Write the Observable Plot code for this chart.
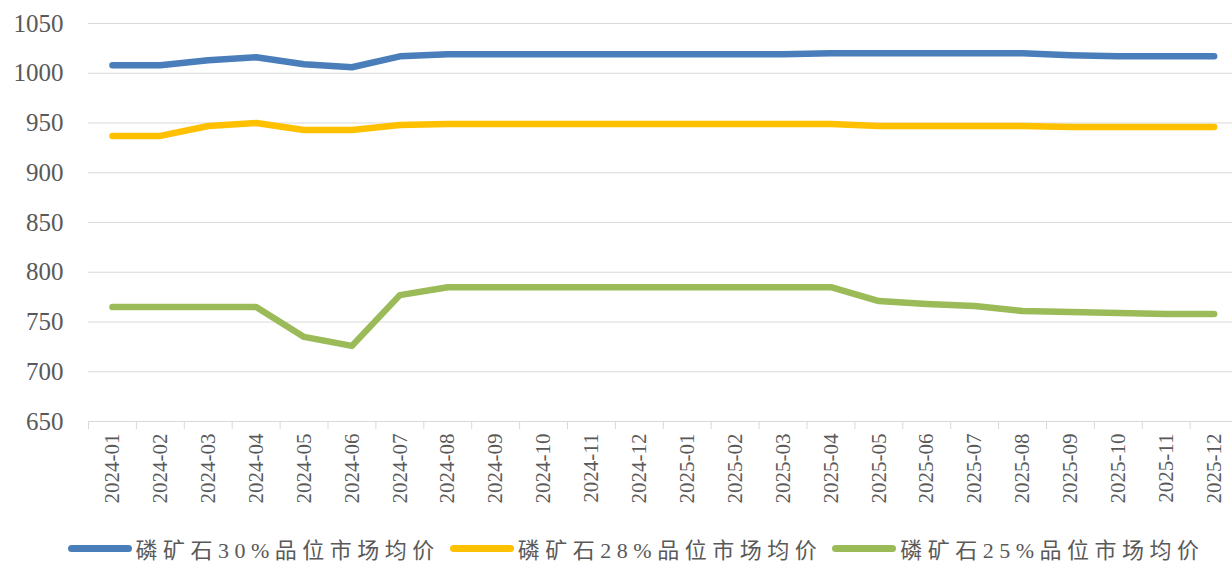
<!DOCTYPE html>
<html>
<head>
<meta charset="utf-8">
<script src="https://cdn.jsdelivr.net/npm/d3@7"></script>
<script src="https://cdn.jsdelivr.net/npm/@observablehq/plot@0.6"></script>
<style>
  body { margin: 0; background: #fff; }
  #chart svg { display: block; }
  #legend {
    display: flex; justify-content: center; align-items: center;
    height: 68px; box-sizing: border-box; padding-bottom: 12px; padding-left: 40px;
    font-family: "Liberation Serif", "Noto Sans CJK SC", serif;
    font-size: 22px; color: #595959; letter-spacing: 5.5px;
  }
  .item { display: flex; align-items: center; margin: 0 5px; }
  .sw { width: 64px; height: 7px; border-radius: 4px; margin-right: 4px; }
</style>
</head>
<body>
<div id="chart"></div>
<div id="legend"></div>
<script>
const months = ["2024-01","2024-02","2024-03","2024-04","2024-05","2024-06","2024-07","2024-08","2024-09","2024-10","2024-11","2024-12",
                "2025-01","2025-02","2025-03","2025-04","2025-05","2025-06","2025-07","2025-08","2025-09","2025-10","2025-11","2025-12"];
const grade30 = [1008,1008,1013,1016,1009,1006,1017,1019,1019,1019,1019,1019,1019,1019,1019,1020,1020,1020,1020,1020,1018,1017,1017,1017];
const grade28 = [937,937,947,950,943,943,948,949,949,949,949,949,949,949,949,949,947,947,947,947,946,946,946,946];
const grade25 = [765,765,765,765,735,726,777,785,785,785,785,785,785,785,785,785,771,768,766,761,760,759,758,758];
const seriesNames = ["磷矿石30%品位市场均价","磷矿石28%品位市场均价","磷矿石25%品位市场均价"];
const seriesColors = ["#4a7ebb","#ffc000","#9bbb59"];
const yTicks = [650,700,750,800,850,900,950,1000,1050];

const seriesValues = [grade30, grade28, grade25];
const data = [];
seriesValues.forEach((vals, s) => vals.forEach((v, i) => data.push({series: seriesNames[s], idx: i + 0.5, value: v})));

const W = 1232, H = 520;
const chart = Plot.plot({
  width: W, height: H,
  marginLeft: 88, marginRight: 0, marginTop: 23, marginBottom: 99,
  style: { fontFamily: "Liberation Serif, serif", color: "#595959", background: "#fff" },
  x: { type: "linear", domain: [0, months.length], range: [88, 88 + 47.9 * months.length] },
  y: { domain: [650, 1050] },
  color: { domain: seriesNames, range: seriesColors },
  marks: [
    Plot.ruleY(yTicks, { stroke: "#d9d9d9", strokeWidth: 1.2 }),
    Plot.axisY(yTicks, { tickSize: 0, tickPadding: 25, fontSize: 25, label: null, fill: "#595959", tickFormat: d => String(d) }),
    Plot.axisX(d3.range(0, months.length + 1), { tickSize: 8, tickFormat: () => "", stroke: "#d9d9d9", label: null }),
    Plot.axisX(d3.range(months.length).map(i => i + 0.5), {
      tickSize: 0, tickPadding: 12, tickRotate: -90, fontSize: 21, label: null, fill: "#595959",
      tickFormat: d => months[Math.round(d - 0.5)]
    }),
    Plot.line(data, { x: "idx", y: "value", z: "series", stroke: "series", strokeWidth: 6.5,
      strokeLinecap: "round", strokeLinejoin: "round" })
  ]
});
document.getElementById("chart").appendChild(chart);

const legend = document.getElementById("legend");
seriesNames.forEach((name, i) => {
  const item = document.createElement("div");
  item.className = "item";
  const sw = document.createElement("span");
  sw.className = "sw";
  sw.style.background = seriesColors[i];
  const t = document.createElement("span");
  t.textContent = name;
  item.appendChild(sw); item.appendChild(t);
  legend.appendChild(item);
});
</script>
</body>
</html>
